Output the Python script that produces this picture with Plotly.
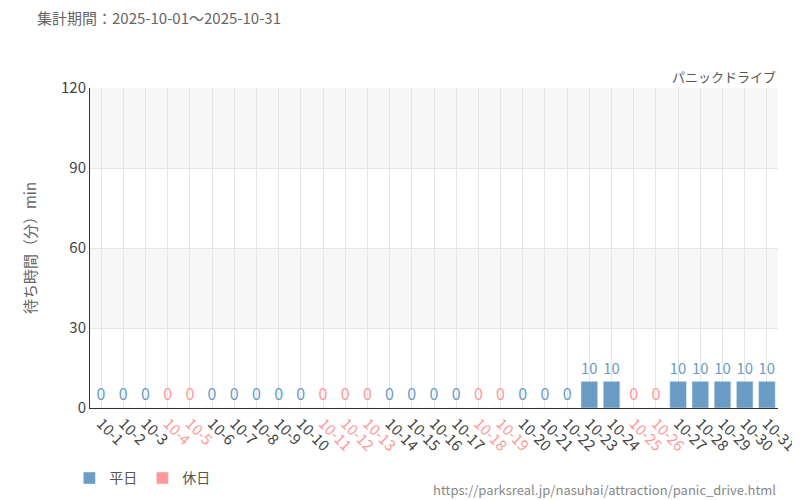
import plotly.graph_objects as go

days = [f"10-{d}" for d in range(1, 32)]
holidays = ["10-4","10-5","10-11","10-12","10-13","10-18","10-19","10-25","10-26"]
values = [0]*22 + [10,10,0,0,10,10,10,10,10]
WD, HD = "#6a9cc6", "#ff9999"

idx = list(range(len(days)))
wx = [i for i, d in zip(idx, days) if d not in holidays]
wy = [v for d, v in zip(days, values) if d not in holidays]
hx = [i for i, d in zip(idx, days) if d in holidays]
hy = [v for d, v in zip(days, values) if d in holidays]

fig = go.Figure()
for name, xs, ys, c in [("平日", wx, wy, WD), ("休日", hx, hy, HD)]:
    fig.add_trace(go.Bar(x=xs, y=ys, name=name, marker_color=c, width=0.75,
                         text=[str(v) for v in ys], textposition="outside",
                         textfont=dict(color=c, size=16), cliponaxis=False))

ticktext = [f'<span style="color:{HD if d in holidays else "#444"}">{d}</span>' for d in days]
for y0 in (30, 90):
    fig.add_shape(type="rect", xref="paper", x0=0, x1=1, yref="y", y0=y0, y1=y0+30,
                  fillcolor="#f7f7f7", line_width=0, layer="below")

fig.update_layout(
    width=800, height=500, margin=dict(l=82, r=30, t=80, b=100, autoexpand=False),
    plot_bgcolor="white", paper_bgcolor="white", barmode="overlay",
    font=dict(family="Noto Sans CJK JP", color="#555"),
    legend=dict(orientation="h", x=-0.03, y=-0.17, xanchor="left", yanchor="top", font=dict(size=14)),
    xaxis=dict(range=[-0.5, 30.5], tickvals=idx, ticktext=ticktext, automargin=False,
               tickangle=45, tickfont=dict(size=15), showgrid=True, gridcolor="#e6e6e6",
               showline=True, linecolor="#333", ticks="", zeroline=False),
    yaxis=dict(range=[0, 120], tickvals=[0, 30, 60, 90, 120], tickfont=dict(size=15, color="#444"),
               gridcolor="#e6e6e6", showline=True, linecolor="#333", zeroline=False, automargin=False,
               title=dict(text="待ち時間（分）min", font=dict(size=15, color="#666"), standoff=20)),
    showlegend=True,
    annotations=[
        dict(text="集計期間：2025-10-01～2025-10-31", xref="paper", yref="paper", x=-0.08, y=1.22,
             xanchor="left", yanchor="middle", showarrow=False, font=dict(size=15, color="#666")),
        dict(text="パニックドライブ", xref="paper", yref="paper", x=1, y=1.0, xanchor="right",
             yanchor="bottom", showarrow=False, font=dict(size=13, color="#555")),
        dict(text="https://parksreal.jp/nasuhai/attraction/panic_drive.html", xref="paper", yref="paper",
             x=1.0, y=-0.22, xanchor="right", yanchor="top", showarrow=False, font=dict(size=13, color="#888")),
    ],
)
fig.write_html("out.html")
